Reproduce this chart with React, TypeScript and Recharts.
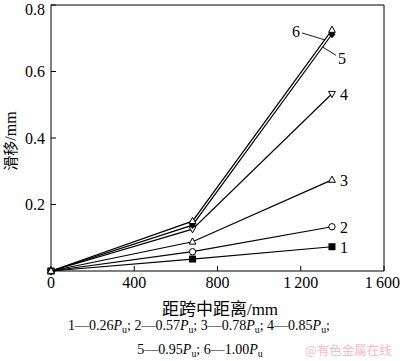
import React from 'react'
import { LineChart, Line, XAxis, YAxis, ReferenceLine } from 'recharts'

// distance from midspan (mm) and slip (mm) per load level
const distances = [0, 680, 1350]
const slip1 = [0, 0.036, 0.073]
const slip2 = [0, 0.058, 0.133]
const slip3 = [0, 0.088, 0.274]
const slip4 = [0, 0.126, 0.533]
const slip5 = [0, 0.138, 0.712]
const slip6 = [0, 0.15, 0.725]
const seriesLabels = ['1', '2', '3', '4', '5', '6']
const xTicks = [0, 400, 800, 1200, 1600]
const yTicks = [0, 0.2, 0.4, 0.6, 0.8]
const loadLevels = ['0.26', '0.57', '0.78', '0.85', '0.95', '1.00']

const allSeries = [slip1, slip2, slip3, slip4, slip5, slip6]
const chartData = distances.map((x, i) => {
  const row: Record<string, number> = { x }
  allSeries.forEach((s, k) => {
    row['s' + (k + 1)] = s[i]
  })
  return row
})

const serif = '"Liberation Serif", "Times New Roman", serif'
const cjk = '"Noto Sans CJK SC", sans-serif'

type Shape = 'square' | 'circle' | 'triUp' | 'triDown' | 'diamond' | 'triUpOpen'

function makeDot(shape: Shape, id: string) {
  return (props: any) => {
    const { cx, cy, index } = props
    const key = `${id}-${index}`
    if (cx == null || cy == null) return <g key={key} />
    switch (shape) {
      case 'square':
        return <rect key={key} x={cx - 3.5} y={cy - 3.5} width={7} height={7} fill="#000" />
      case 'circle':
        return <circle key={key} cx={cx} cy={cy} r={3.2} fill="#fff" stroke="#000" strokeWidth={1} />
      case 'triUp':
      case 'triUpOpen':
        return (
          <path key={key} d={`M${cx},${cy - 3.8} L${cx + 3.4},${cy + 2.4} L${cx - 3.4},${cy + 2.4} Z`}
            fill="#fff" stroke="#000" strokeWidth={1} />
        )
      case 'triDown':
        return (
          <path key={key} d={`M${cx},${cy + 3.8} L${cx + 3.4},${cy - 2.4} L${cx - 3.4},${cy - 2.4} Z`}
            fill="#fff" stroke="#000" strokeWidth={1} />
        )
      case 'diamond':
        return (
          <path key={key} d={`M${cx},${cy - 4} L${cx + 3.5},${cy} L${cx},${cy + 4} L${cx - 3.5},${cy} Z`}
            fill="#000" />
        )
    }
    return <g key={key} />
  }
}

function makeEndLabel(text: string) {
  return (props: any) => {
    const { x, y, index } = props
    if (index !== distances.length - 1) return <g key={`l-${text}-${index}`} />
    const style = { fontFamily: serif, fontSize: 16, fill: '#000' }
    if (text === '6') {
      return (
        <g key="l6">
          <line x1={x - 30} y1={y + 3} x2={x - 7} y2={y + 10} stroke="#000" strokeWidth={0.9} />
          <text x={x - 36} y={y + 7} textAnchor="middle" {...style}>{text}</text>
        </g>
      )
    }
    if (text === '5') {
      return (
        <g key="l5">
          <line x1={x - 9} y1={y + 13} x2={x + 4} y2={y + 21} stroke="#000" strokeWidth={0.9} />
          <text x={x + 10} y={y + 30} textAnchor="middle" {...style}>{text}</text>
        </g>
      )
    }
    return (
      <text key={`l-${text}`} x={x + 12} y={y + 6} textAnchor="middle" {...style}>{text}</text>
    )
  }
}

const shapes: Shape[] = ['square', 'circle', 'triUp', 'triDown', 'diamond', 'triUpOpen']

const formatX = (v: number) =>
  v >= 1000 ? `${Math.floor(v / 1000)}\u2009${String(v % 1000).padStart(3, '0')}` : String(v)
const formatY = (v: number) => (v === 0 ? '' : v.toFixed(1))

function Pu({ value }: { value: string }) {
  return (
    <span>
      {value}
      <i>P</i>
      <sub style={{ fontSize: '0.7em', verticalAlign: '-0.25em', lineHeight: 1 }}>u</sub>
    </span>
  )
}

export default function App() {
  const tickStyle = { fontFamily: serif, fontSize: 16, fill: '#000' }
  return (
    <div style={{ position: 'absolute', left: 0, top: 0, width: 400, height: 361, background: '#fff' }}>
      <LineChart width={400} height={361} data={chartData}
        margin={{ top: 5, right: 16, bottom: 60, left: 0 }}>
        <XAxis dataKey="x" type="number" domain={[0, 1600]} ticks={xTicks} tickFormatter={formatX}
          tick={tickStyle} tickSize={-5} tickMargin={11} height={30}
          axisLine={{ stroke: '#000' }} tickLine={{ stroke: '#000' }} />
        <YAxis type="number" domain={[0, 0.8]} ticks={yTicks} tickFormatter={formatY}
          tick={tickStyle} tickSize={-5} tickMargin={11} width={51}
          axisLine={{ stroke: '#000' }} tickLine={{ stroke: '#000' }} />
        <ReferenceLine y={0.8} stroke="#000" />
        <ReferenceLine x={1600} stroke="#000" />
        {shapes.map((shape, k) => (
          <Line key={k} dataKey={'s' + (k + 1)} type="linear" stroke="#000" strokeWidth={1.2}
            dot={makeDot(shape, 's' + (k + 1))} activeDot={false}
            label={makeEndLabel(seriesLabels[k])} isAnimationActive={false} />
        ))}
      </LineChart>
      <div style={{
        position: 'absolute', left: 10, top: 141, transform: 'translate(-50%, -50%) rotate(-90deg)',
        fontFamily: cjk, fontSize: 15, fontWeight: 400, whiteSpace: 'nowrap', color: '#000', lineHeight: 1,
      }}>
        滑移<span style={{ fontFamily: serif, fontSize: 16 }}>/mm</span>
      </div>
      <div style={{
        position: 'absolute', left: 220, top: 308, transform: 'translate(-50%, -50%)',
        fontFamily: cjk, fontSize: 17, fontWeight: 400, whiteSpace: 'nowrap', color: '#000', lineHeight: 1,
      }}>
        距跨中距离<span style={{ fontFamily: serif }}>/mm</span>
      </div>
      <div style={{
        position: 'absolute', left: 199, top: 327, transform: 'translate(-50%, -50%)',
        fontFamily: serif, fontSize: 14, whiteSpace: 'nowrap', color: '#000', lineHeight: 1,
      }}>
        {loadLevels.slice(0, 4).map((v, i) => (
          <span key={i}>{i + 1}—<Pu value={v} />;{i < 3 ? ' ' : ''}</span>
        ))}
      </div>
      <div style={{
        position: 'absolute', left: 200, top: 351, transform: 'translate(-50%, -50%)',
        fontFamily: serif, fontSize: 14, whiteSpace: 'nowrap', color: '#000', lineHeight: 1,
      }}>
        {loadLevels.slice(4).map((v, i) => (
          <span key={i}>{i + 5}—<Pu value={v} />{i < 1 ? '; ' : ''}</span>
        ))}
      </div>
      <div style={{
        position: 'absolute', left: 305, top: 344, fontFamily: cjk, fontSize: 12.5,
        color: '#f2bcc6', whiteSpace: 'nowrap', lineHeight: 1,
      }}>
        @有色金属在线
      </div>
    </div>
  )
}
